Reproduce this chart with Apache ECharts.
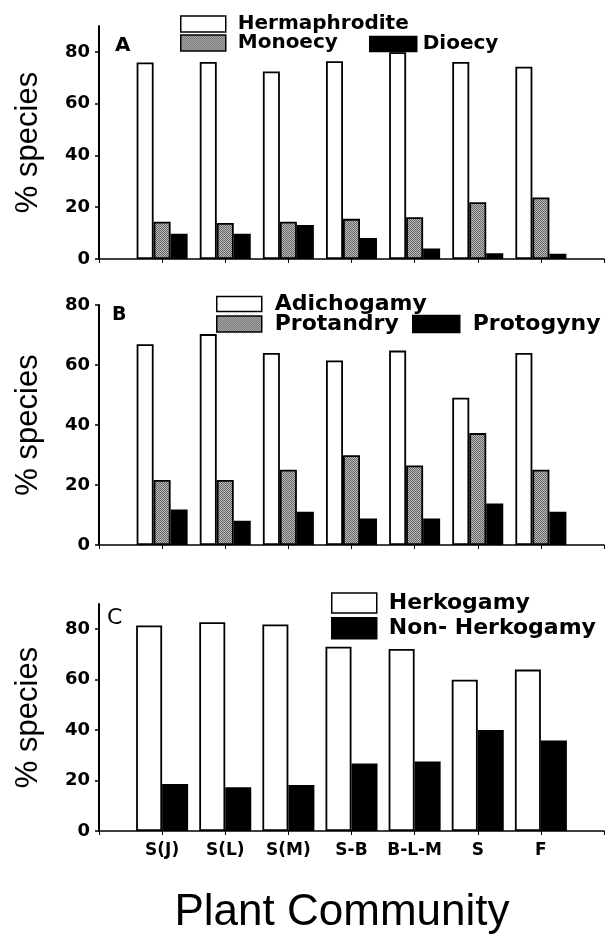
<!DOCTYPE html>
<html>
<head>
<meta charset="utf-8">
<script src="https://cdn.jsdelivr.net/npm/echarts@6/dist/echarts.min.js"></script>
<style>
html,body{margin:0;padding:0;background:#fff;}
#chart{width:611px;height:939px;}
</style>
</head>
<body>
<div id="chart"></div>
<script>
// ---- data ----
const categories = ['S(J)', 'S(L)', 'S(M)', 'S-B', 'B-L-M', 'S', 'F'];
const yTicks = [0, 20, 40, 60, 80];
// Panel A
const hermaphrodite = [75.9, 76.1, 72.4, 76.4, 79.9, 76.1, 74.3];
const monoecy       = [14.4, 13.9, 14.4, 15.5, 16.1, 21.9, 23.8];
const dioecy        = [9.8, 9.8, 13.1, 8.1, 4.1, 2.2, 2.0];
// Panel B
const adichogamy = [66.9, 70.3, 64.0, 61.5, 64.8, 49.1, 64.0];
const protandry  = [21.7, 21.7, 25.1, 29.9, 26.5, 37.3, 25.1];
const protogyny  = [11.8, 8.1, 11.1, 8.8, 8.8, 13.8, 11.1];
// Panel C
const herkogamy    = [81.5, 82.8, 81.9, 73.1, 72.2, 60.0, 64.0];
const nonHerkogamy = [18.6, 17.3, 18.2, 26.8, 27.6, 40.0, 35.9];

// ---- styles ----
function stipple() {
  const c = document.createElement('canvas');
  c.width = 4; c.height = 4;
  const ctx = c.getContext('2d');
  ctx.fillStyle = '#bbbbbb'; ctx.fillRect(0, 0, 4, 4);
  ctx.fillStyle = '#666666';
  for (let y = 0; y < 4; y++) for (let x = 0; x < 4; x++) if ((x + y) % 2 === 0) ctx.fillRect(x, y, 1, 1);
  return c;
}
const WHITE = '#ffffff', BLACK = '#000000';
const GRAY = { image: stipple(), repeat: 'repeat' };

const FONT = 'DejaVu Sans';
const grids = [
  { left: 99, right: 7, top: 26, height: 233 },
  { left: 99, right: 7, top: 305, height: 240 },
  { left: 99, right: 7, top: 604, height: 227 }
];
const maxes = [90, 80, 90];

function pad(v) { return [null].concat(v, [null]); }

function bars(name, vals, idx, color, width) {
  return {
    type: 'bar', name: name, xAxisIndex: idx, yAxisIndex: idx,
    data: pad(vals), barWidth: width, barGap: '0%',
    itemStyle: { color: color, borderColor: '#000', borderWidth: 1.8 },
    emphasis: { disabled: true }
  };
}

const xAxes = grids.map((g, i) => ({
  gridIndex: i, type: 'category', data: pad(categories).map(c => c === null ? '' : c),
  boundaryGap: false,
  axisLine: { lineStyle: { color: '#000', width: 1.5 } },
  axisTick: { show: true, length: 4, lineStyle: { color: '#000', width: 1 } },
  axisLabel: { show: i === 2, interval: 0, fontFamily: FONT, fontWeight: 'bold', fontSize: 17, color: '#000', margin: 11 },
  name: i === 2 ? 'Plant Community' : '',
  nameLocation: 'middle', nameGap: 60,
  nameTextStyle: { fontFamily: 'Liberation Sans', fontSize: 44, color: '#000', padding: [0, 19, 0, 0] }
}));

const yAxes = grids.map((g, i) => ({
  gridIndex: i, type: 'value', min: 0, max: maxes[i], interval: 20,
  splitLine: { show: false },
  axisLine: { show: true, lineStyle: { color: '#000', width: 2 } },
  axisTick: { show: true, length: 4, customValues: yTicks, lineStyle: { color: '#000', width: 1.5 } },
  axisLabel: { customValues: yTicks, fontFamily: FONT, fontWeight: 'bold', fontSize: 18, color: '#000', margin: 9 },
  name: '% species', nameLocation: 'middle', nameGap: 55,
  nameTextStyle: { fontFamily: 'Liberation Sans', fontSize: 31, color: '#000' }
}));

function leg(name, left, top, w, h, size, color, gap) {
  return {
    data: [{ name: name, itemStyle: { color: color, borderColor: '#000', borderWidth: 1.5 } }],
    left: left, top: top, padding: 0, itemWidth: w, itemHeight: h, icon: 'rect',
    selectedMode: false,
    textStyle: { fontFamily: FONT, fontWeight: 'bold', fontSize: size, color: '#000', padding: [0, 0, 0, gap] }
  };
}

const option = {
  animation: false,
  backgroundColor: '#fff',
  grid: grids,
  xAxis: xAxes,
  yAxis: yAxes,
  title: [
    { text: 'A', left: 115, top: 36, padding: 0, textStyle: { fontFamily: FONT, fontWeight: 'bold', fontSize: 20, color: '#000' } },
    { text: 'B', left: 112, top: 306, padding: 0, textStyle: { fontFamily: FONT, fontWeight: 'bold', fontSize: 19, color: '#000' } },
    { text: 'C', left: 107, top: 607, padding: 0, textStyle: { fontFamily: FONT, fontWeight: 'normal', fontSize: 22, color: '#000' } }
  ],
  legend: [
    leg('Hermaphrodite', 180, 14, 45, 16, 20, WHITE, 7),
    leg('Monoecy', 180, 33, 45, 16, 20, GRAY, 7),
    leg('Dioecy', 369, 34, 47, 15, 20, BLACK, 1),
    leg('Adichogamy', 216, 293, 45, 15, 22, WHITE, 8),
    leg('Protandry', 216, 313, 45, 16, 22, GRAY, 8),
    leg('Protogyny', 412, 313, 47, 17, 22, BLACK, 8),
    leg('Herkogamy', 331, 592, 45, 20, 22, WHITE, 7),
    leg('Non- Herkogamy', 331, 617, 45, 21, 22, BLACK, 7)
  ],
  series: [
    bars('Hermaphrodite', hermaphrodite, 0, WHITE, 17),
    bars('Monoecy', monoecy, 0, GRAY, 17),
    bars('Dioecy', dioecy, 0, BLACK, 17),
    bars('Adichogamy', adichogamy, 1, WHITE, 17),
    bars('Protandry', protandry, 1, GRAY, 17),
    bars('Protogyny', protogyny, 1, BLACK, 17),
    bars('Herkogamy', herkogamy, 2, WHITE, 26),
    bars('Non- Herkogamy', nonHerkogamy, 2, BLACK, 26)
  ]
};

const chart = echarts.init(document.getElementById('chart'), null, { renderer: 'canvas' });
chart.setOption(option);
</script>
</body>
</html>
